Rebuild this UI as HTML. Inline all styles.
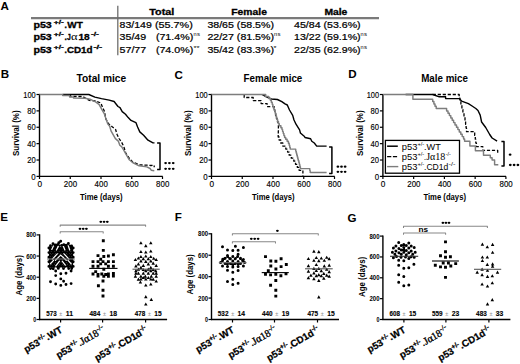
<!DOCTYPE html><html><head><meta charset="utf-8"><style>html,body{margin:0;padding:0;background:#fff;}svg{display:block;}</style></head><body>
<svg width="520" height="364" viewBox="0 0 520 364" font-family='"Liberation Sans", sans-serif'>
<rect width="520" height="364" fill="#fff"/>
<text x="0.60" y="9.60" font-size="11.6" font-weight="bold" text-anchor="start" fill="#000" >A</text>
<text x="0.80" y="78.30" font-size="11.6" font-weight="bold" text-anchor="start" fill="#000" >B</text>
<text x="174.60" y="78.50" font-size="11.6" font-weight="bold" text-anchor="start" fill="#000" >C</text>
<text x="348.30" y="78.10" font-size="11.6" font-weight="bold" text-anchor="start" fill="#000" >D</text>
<text x="0.20" y="221.40" font-size="11.6" font-weight="bold" text-anchor="start" fill="#000" >E</text>
<text x="174.70" y="221.40" font-size="11.6" font-weight="bold" text-anchor="start" fill="#000" >F</text>
<text x="347.60" y="221.80" font-size="11.6" font-weight="bold" text-anchor="start" fill="#000" >G</text>
<line x1="31.00" y1="18.10" x2="379.00" y2="18.10" stroke="#7a7a7a" stroke-width="2.4" />
<line x1="117.80" y1="5.80" x2="117.80" y2="55.20" stroke="#6e6e6e" stroke-width="1.3" />
<text x="149.30" y="14.70" font-size="8.7" font-weight="bold" text-anchor="start" fill="#000" textLength="25.00" lengthAdjust="spacingAndGlyphs" stroke="#000" stroke-width="0.3">Total</text>
<text x="231.30" y="14.70" font-size="8.7" font-weight="bold" text-anchor="start" fill="#000" textLength="35.60" lengthAdjust="spacingAndGlyphs" stroke="#000" stroke-width="0.3">Female</text>
<text x="324.40" y="14.70" font-size="8.7" font-weight="bold" text-anchor="start" fill="#000" textLength="23.00" lengthAdjust="spacingAndGlyphs" stroke="#000" stroke-width="0.3">Male</text>
<text x="33.40" y="28.10" font-size="9.2" font-weight="bold" text-anchor="start" fill="#000" textLength="18.40" lengthAdjust="spacingAndGlyphs" stroke="#000" stroke-width="0.3">p53</text>
<text x="53.80" y="24.10" font-size="5.9" font-weight="bold" text-anchor="start" fill="#000" textLength="9.90" lengthAdjust="spacingAndGlyphs" stroke="#000" stroke-width="0.3">+/-</text>
<text x="64.50" y="28.10" font-size="8.8" font-weight="bold" text-anchor="start" fill="#000" textLength="2.40" lengthAdjust="spacingAndGlyphs" stroke="#000" stroke-width="0.3">.</text>
<text x="33.40" y="39.70" font-size="9.2" font-weight="bold" text-anchor="start" fill="#000" textLength="18.40" lengthAdjust="spacingAndGlyphs" stroke="#000" stroke-width="0.3">p53</text>
<text x="53.80" y="35.70" font-size="5.9" font-weight="bold" text-anchor="start" fill="#000" textLength="9.90" lengthAdjust="spacingAndGlyphs" stroke="#000" stroke-width="0.3">+/-</text>
<text x="64.50" y="39.70" font-size="8.8" font-weight="bold" text-anchor="start" fill="#000" textLength="2.40" lengthAdjust="spacingAndGlyphs" stroke="#000" stroke-width="0.3">.</text>
<text x="33.40" y="53.20" font-size="9.2" font-weight="bold" text-anchor="start" fill="#000" textLength="18.40" lengthAdjust="spacingAndGlyphs" stroke="#000" stroke-width="0.3">p53</text>
<text x="53.80" y="49.20" font-size="5.9" font-weight="bold" text-anchor="start" fill="#000" textLength="9.90" lengthAdjust="spacingAndGlyphs" stroke="#000" stroke-width="0.3">+/-</text>
<text x="64.50" y="53.20" font-size="8.8" font-weight="bold" text-anchor="start" fill="#000" textLength="2.40" lengthAdjust="spacingAndGlyphs" stroke="#000" stroke-width="0.3">.</text>
<text x="67.30" y="28.10" font-size="9.2" font-weight="bold" text-anchor="start" fill="#000" textLength="15.50" lengthAdjust="spacingAndGlyphs" stroke="#000" stroke-width="0.3">WT</text>
<text x="67.00" y="39.70" font-size="9.2" font-weight="bold" text-anchor="start" fill="#000" textLength="3.80" lengthAdjust="spacingAndGlyphs" stroke="#000" stroke-width="0.3">J</text>
<text x="70.9" y="39.70" font-size="9.6" font-family='"Liberation Serif", serif' textLength="6.6" lengthAdjust="spacingAndGlyphs">α</text>
<text x="78.40" y="39.70" font-size="9.2" font-weight="bold" text-anchor="start" fill="#000" textLength="11.30" lengthAdjust="spacingAndGlyphs" stroke="#000" stroke-width="0.3">18</text>
<text x="90.90" y="35.70" font-size="5.9" font-weight="bold" text-anchor="start" fill="#000" textLength="8.00" lengthAdjust="spacingAndGlyphs" stroke="#000" stroke-width="0.3">-/-</text>
<text x="66.90" y="53.20" font-size="9.2" font-weight="bold" text-anchor="start" fill="#000" textLength="25.70" lengthAdjust="spacingAndGlyphs" stroke="#000" stroke-width="0.3">CD1d</text>
<text x="93.40" y="49.20" font-size="5.9" font-weight="bold" text-anchor="start" fill="#000" textLength="8.80" lengthAdjust="spacingAndGlyphs" stroke="#000" stroke-width="0.3">-/-</text>
<text x="119.60" y="28.10" font-size="8.9" font-weight="normal" text-anchor="start" fill="#000" textLength="32.20" lengthAdjust="spacingAndGlyphs" stroke="#000" stroke-width="0.22">83/149</text>
<text x="155.00" y="28.10" font-size="8.9" font-weight="normal" text-anchor="start" fill="#000" textLength="37.80" lengthAdjust="spacingAndGlyphs" stroke="#000" stroke-width="0.22">(55.7%)</text>
<text x="119.60" y="39.70" font-size="8.9" font-weight="normal" text-anchor="start" fill="#000" textLength="26.60" lengthAdjust="spacingAndGlyphs" stroke="#000" stroke-width="0.22">35/49</text>
<text x="155.90" y="39.70" font-size="8.9" font-weight="normal" text-anchor="start" fill="#000" textLength="37.30" lengthAdjust="spacingAndGlyphs" stroke="#000" stroke-width="0.22">(71.4%)</text>
<text x="193.40" y="35.80" font-size="6.2" font-weight="normal" text-anchor="start" fill="#000" textLength="3.10" lengthAdjust="spacingAndGlyphs" >n</text>
<text x="196.90" y="35.80" font-size="6.2" font-weight="normal" text-anchor="start" fill="#000" textLength="3.00" lengthAdjust="spacingAndGlyphs" >s</text>
<text x="119.60" y="53.20" font-size="8.9" font-weight="normal" text-anchor="start" fill="#000" textLength="26.60" lengthAdjust="spacingAndGlyphs" stroke="#000" stroke-width="0.22">57/77</text>
<text x="155.90" y="53.20" font-size="8.9" font-weight="normal" text-anchor="start" fill="#000" textLength="37.30" lengthAdjust="spacingAndGlyphs" stroke="#000" stroke-width="0.22">(74.0%)</text>
<text x="193.40" y="50.00" font-size="6.0" font-weight="normal" text-anchor="start" fill="#000" textLength="6.20" lengthAdjust="spacingAndGlyphs" >**</text>
<text x="207.40" y="28.10" font-size="8.9" font-weight="normal" text-anchor="start" fill="#000" textLength="66.60" lengthAdjust="spacingAndGlyphs" stroke="#000" stroke-width="0.22">38/65 (58.5%)</text>
<text x="207.40" y="39.70" font-size="8.9" font-weight="normal" text-anchor="start" fill="#000" textLength="66.60" lengthAdjust="spacingAndGlyphs" stroke="#000" stroke-width="0.22">22/27 (81.5%)</text>
<text x="274.00" y="35.80" font-size="6.2" font-weight="normal" text-anchor="start" fill="#000" textLength="3.10" lengthAdjust="spacingAndGlyphs" >n</text>
<text x="277.50" y="35.80" font-size="6.2" font-weight="normal" text-anchor="start" fill="#000" textLength="3.00" lengthAdjust="spacingAndGlyphs" >s</text>
<text x="207.40" y="53.20" font-size="8.9" font-weight="normal" text-anchor="start" fill="#000" textLength="66.60" lengthAdjust="spacingAndGlyphs" stroke="#000" stroke-width="0.22">35/42 (83.3%)</text>
<text x="273.60" y="50.00" font-size="6.0" font-weight="normal" text-anchor="start" fill="#000" textLength="3.00" lengthAdjust="spacingAndGlyphs" >*</text>
<text x="294.00" y="28.10" font-size="8.9" font-weight="normal" text-anchor="start" fill="#000" textLength="66.60" lengthAdjust="spacingAndGlyphs" stroke="#000" stroke-width="0.22">45/84 (53.6%)</text>
<text x="294.00" y="39.70" font-size="8.9" font-weight="normal" text-anchor="start" fill="#000" textLength="66.60" lengthAdjust="spacingAndGlyphs" stroke="#000" stroke-width="0.22">13/22 (59.1%)</text>
<text x="360.40" y="35.80" font-size="6.2" font-weight="normal" text-anchor="start" fill="#000" textLength="3.10" lengthAdjust="spacingAndGlyphs" >n</text>
<text x="363.90" y="35.80" font-size="6.2" font-weight="normal" text-anchor="start" fill="#000" textLength="3.00" lengthAdjust="spacingAndGlyphs" >s</text>
<text x="294.00" y="53.20" font-size="8.9" font-weight="normal" text-anchor="start" fill="#000" textLength="66.60" lengthAdjust="spacingAndGlyphs" stroke="#000" stroke-width="0.22">22/35 (62.9%)</text>
<text x="360.40" y="49.30" font-size="6.2" font-weight="normal" text-anchor="start" fill="#000" textLength="3.10" lengthAdjust="spacingAndGlyphs" >n</text>
<text x="363.90" y="49.30" font-size="6.2" font-weight="normal" text-anchor="start" fill="#000" textLength="3.00" lengthAdjust="spacingAndGlyphs" >s</text>
<line x1="39.50" y1="93.90" x2="39.50" y2="177.00" stroke="#000" stroke-width="1.4" />
<line x1="38.90" y1="176.40" x2="162.70" y2="176.40" stroke="#000" stroke-width="1.4" />
<line x1="36.50" y1="176.40" x2="39.50" y2="176.40" stroke="#000" stroke-width="1.2" />
<text x="35.70" y="179.60" font-size="9.2" font-weight="normal" text-anchor="end" fill="#000" textLength="4.40" lengthAdjust="spacingAndGlyphs" stroke="#000" stroke-width="0.15">0</text>
<line x1="36.50" y1="160.02" x2="39.50" y2="160.02" stroke="#000" stroke-width="1.2" />
<text x="35.70" y="163.22" font-size="9.2" font-weight="normal" text-anchor="end" fill="#000" textLength="8.50" lengthAdjust="spacingAndGlyphs" stroke="#000" stroke-width="0.15">20</text>
<line x1="36.50" y1="143.64" x2="39.50" y2="143.64" stroke="#000" stroke-width="1.2" />
<text x="35.70" y="146.84" font-size="9.2" font-weight="normal" text-anchor="end" fill="#000" textLength="8.50" lengthAdjust="spacingAndGlyphs" stroke="#000" stroke-width="0.15">40</text>
<line x1="36.50" y1="127.26" x2="39.50" y2="127.26" stroke="#000" stroke-width="1.2" />
<text x="35.70" y="130.46" font-size="9.2" font-weight="normal" text-anchor="end" fill="#000" textLength="8.50" lengthAdjust="spacingAndGlyphs" stroke="#000" stroke-width="0.15">60</text>
<line x1="36.50" y1="110.88" x2="39.50" y2="110.88" stroke="#000" stroke-width="1.2" />
<text x="35.70" y="114.08" font-size="9.2" font-weight="normal" text-anchor="end" fill="#000" textLength="8.50" lengthAdjust="spacingAndGlyphs" stroke="#000" stroke-width="0.15">80</text>
<line x1="36.50" y1="94.50" x2="39.50" y2="94.50" stroke="#000" stroke-width="1.2" />
<text x="35.70" y="97.70" font-size="9.2" font-weight="normal" text-anchor="end" fill="#000" textLength="12.40" lengthAdjust="spacingAndGlyphs" stroke="#000" stroke-width="0.15">100</text>
<line x1="39.50" y1="176.40" x2="39.50" y2="179.00" stroke="#000" stroke-width="1.2" />
<text x="39.70" y="187.30" font-size="9.0" font-weight="normal" text-anchor="middle" fill="#000" textLength="4.60" lengthAdjust="spacingAndGlyphs" stroke="#000" stroke-width="0.15">0</text>
<line x1="70.25" y1="176.40" x2="70.25" y2="179.00" stroke="#000" stroke-width="1.2" />
<text x="70.45" y="187.30" font-size="9.0" font-weight="normal" text-anchor="middle" fill="#000" textLength="13.20" lengthAdjust="spacingAndGlyphs" stroke="#000" stroke-width="0.15">200</text>
<line x1="101.00" y1="176.40" x2="101.00" y2="179.00" stroke="#000" stroke-width="1.2" />
<text x="101.20" y="187.30" font-size="9.0" font-weight="normal" text-anchor="middle" fill="#000" textLength="13.20" lengthAdjust="spacingAndGlyphs" stroke="#000" stroke-width="0.15">400</text>
<line x1="131.75" y1="176.40" x2="131.75" y2="179.00" stroke="#000" stroke-width="1.2" />
<text x="131.95" y="187.30" font-size="9.0" font-weight="normal" text-anchor="middle" fill="#000" textLength="13.20" lengthAdjust="spacingAndGlyphs" stroke="#000" stroke-width="0.15">600</text>
<line x1="162.50" y1="176.40" x2="162.50" y2="179.00" stroke="#000" stroke-width="1.2" />
<text x="162.70" y="187.30" font-size="9.0" font-weight="normal" text-anchor="middle" fill="#000" textLength="13.20" lengthAdjust="spacingAndGlyphs" stroke="#000" stroke-width="0.15">800</text>
<text x="101.30" y="199.80" font-size="8.3" font-weight="bold" text-anchor="middle" fill="#000" textLength="42.60" lengthAdjust="spacingAndGlyphs" >Time (days)</text>
<text transform="translate(19.30,133.2) rotate(-90)" font-size="9.6" font-weight="bold" text-anchor="middle" textLength="45.6" lengthAdjust="spacingAndGlyphs">Survival (%)</text>
<line x1="211.50" y1="93.90" x2="211.50" y2="177.00" stroke="#000" stroke-width="1.4" />
<line x1="210.90" y1="176.40" x2="334.70" y2="176.40" stroke="#000" stroke-width="1.4" />
<line x1="208.50" y1="176.40" x2="211.50" y2="176.40" stroke="#000" stroke-width="1.2" />
<text x="207.70" y="179.60" font-size="9.2" font-weight="normal" text-anchor="end" fill="#000" textLength="4.40" lengthAdjust="spacingAndGlyphs" stroke="#000" stroke-width="0.15">0</text>
<line x1="208.50" y1="160.02" x2="211.50" y2="160.02" stroke="#000" stroke-width="1.2" />
<text x="207.70" y="163.22" font-size="9.2" font-weight="normal" text-anchor="end" fill="#000" textLength="8.50" lengthAdjust="spacingAndGlyphs" stroke="#000" stroke-width="0.15">20</text>
<line x1="208.50" y1="143.64" x2="211.50" y2="143.64" stroke="#000" stroke-width="1.2" />
<text x="207.70" y="146.84" font-size="9.2" font-weight="normal" text-anchor="end" fill="#000" textLength="8.50" lengthAdjust="spacingAndGlyphs" stroke="#000" stroke-width="0.15">40</text>
<line x1="208.50" y1="127.26" x2="211.50" y2="127.26" stroke="#000" stroke-width="1.2" />
<text x="207.70" y="130.46" font-size="9.2" font-weight="normal" text-anchor="end" fill="#000" textLength="8.50" lengthAdjust="spacingAndGlyphs" stroke="#000" stroke-width="0.15">60</text>
<line x1="208.50" y1="110.88" x2="211.50" y2="110.88" stroke="#000" stroke-width="1.2" />
<text x="207.70" y="114.08" font-size="9.2" font-weight="normal" text-anchor="end" fill="#000" textLength="8.50" lengthAdjust="spacingAndGlyphs" stroke="#000" stroke-width="0.15">80</text>
<line x1="208.50" y1="94.50" x2="211.50" y2="94.50" stroke="#000" stroke-width="1.2" />
<text x="207.70" y="97.70" font-size="9.2" font-weight="normal" text-anchor="end" fill="#000" textLength="12.40" lengthAdjust="spacingAndGlyphs" stroke="#000" stroke-width="0.15">100</text>
<line x1="211.50" y1="176.40" x2="211.50" y2="179.00" stroke="#000" stroke-width="1.2" />
<text x="211.70" y="187.30" font-size="9.0" font-weight="normal" text-anchor="middle" fill="#000" textLength="4.60" lengthAdjust="spacingAndGlyphs" stroke="#000" stroke-width="0.15">0</text>
<line x1="242.25" y1="176.40" x2="242.25" y2="179.00" stroke="#000" stroke-width="1.2" />
<text x="242.45" y="187.30" font-size="9.0" font-weight="normal" text-anchor="middle" fill="#000" textLength="13.20" lengthAdjust="spacingAndGlyphs" stroke="#000" stroke-width="0.15">200</text>
<line x1="273.00" y1="176.40" x2="273.00" y2="179.00" stroke="#000" stroke-width="1.2" />
<text x="273.20" y="187.30" font-size="9.0" font-weight="normal" text-anchor="middle" fill="#000" textLength="13.20" lengthAdjust="spacingAndGlyphs" stroke="#000" stroke-width="0.15">400</text>
<line x1="303.75" y1="176.40" x2="303.75" y2="179.00" stroke="#000" stroke-width="1.2" />
<text x="303.95" y="187.30" font-size="9.0" font-weight="normal" text-anchor="middle" fill="#000" textLength="13.20" lengthAdjust="spacingAndGlyphs" stroke="#000" stroke-width="0.15">600</text>
<line x1="334.50" y1="176.40" x2="334.50" y2="179.00" stroke="#000" stroke-width="1.2" />
<text x="334.70" y="187.30" font-size="9.0" font-weight="normal" text-anchor="middle" fill="#000" textLength="13.20" lengthAdjust="spacingAndGlyphs" stroke="#000" stroke-width="0.15">800</text>
<text x="273.30" y="199.80" font-size="8.3" font-weight="bold" text-anchor="middle" fill="#000" textLength="42.60" lengthAdjust="spacingAndGlyphs" >Time (days)</text>
<text transform="translate(191.30,133.2) rotate(-90)" font-size="9.6" font-weight="bold" text-anchor="middle" textLength="45.6" lengthAdjust="spacingAndGlyphs">Survival (%)</text>
<line x1="382.90" y1="93.90" x2="382.90" y2="177.00" stroke="#000" stroke-width="1.4" />
<line x1="382.30" y1="176.40" x2="506.10" y2="176.40" stroke="#000" stroke-width="1.4" />
<line x1="379.90" y1="176.40" x2="382.90" y2="176.40" stroke="#000" stroke-width="1.2" />
<text x="379.10" y="179.60" font-size="9.2" font-weight="normal" text-anchor="end" fill="#000" textLength="4.40" lengthAdjust="spacingAndGlyphs" stroke="#000" stroke-width="0.15">0</text>
<line x1="379.90" y1="160.02" x2="382.90" y2="160.02" stroke="#000" stroke-width="1.2" />
<text x="379.10" y="163.22" font-size="9.2" font-weight="normal" text-anchor="end" fill="#000" textLength="8.50" lengthAdjust="spacingAndGlyphs" stroke="#000" stroke-width="0.15">20</text>
<line x1="379.90" y1="143.64" x2="382.90" y2="143.64" stroke="#000" stroke-width="1.2" />
<text x="379.10" y="146.84" font-size="9.2" font-weight="normal" text-anchor="end" fill="#000" textLength="8.50" lengthAdjust="spacingAndGlyphs" stroke="#000" stroke-width="0.15">40</text>
<line x1="379.90" y1="127.26" x2="382.90" y2="127.26" stroke="#000" stroke-width="1.2" />
<text x="379.10" y="130.46" font-size="9.2" font-weight="normal" text-anchor="end" fill="#000" textLength="8.50" lengthAdjust="spacingAndGlyphs" stroke="#000" stroke-width="0.15">60</text>
<line x1="379.90" y1="110.88" x2="382.90" y2="110.88" stroke="#000" stroke-width="1.2" />
<text x="379.10" y="114.08" font-size="9.2" font-weight="normal" text-anchor="end" fill="#000" textLength="8.50" lengthAdjust="spacingAndGlyphs" stroke="#000" stroke-width="0.15">80</text>
<line x1="379.90" y1="94.50" x2="382.90" y2="94.50" stroke="#000" stroke-width="1.2" />
<text x="379.10" y="97.70" font-size="9.2" font-weight="normal" text-anchor="end" fill="#000" textLength="12.40" lengthAdjust="spacingAndGlyphs" stroke="#000" stroke-width="0.15">100</text>
<line x1="382.90" y1="176.40" x2="382.90" y2="179.00" stroke="#000" stroke-width="1.2" />
<text x="383.10" y="187.30" font-size="9.0" font-weight="normal" text-anchor="middle" fill="#000" textLength="4.60" lengthAdjust="spacingAndGlyphs" stroke="#000" stroke-width="0.15">0</text>
<line x1="413.65" y1="176.40" x2="413.65" y2="179.00" stroke="#000" stroke-width="1.2" />
<text x="413.85" y="187.30" font-size="9.0" font-weight="normal" text-anchor="middle" fill="#000" textLength="13.20" lengthAdjust="spacingAndGlyphs" stroke="#000" stroke-width="0.15">200</text>
<line x1="444.40" y1="176.40" x2="444.40" y2="179.00" stroke="#000" stroke-width="1.2" />
<text x="444.60" y="187.30" font-size="9.0" font-weight="normal" text-anchor="middle" fill="#000" textLength="13.20" lengthAdjust="spacingAndGlyphs" stroke="#000" stroke-width="0.15">400</text>
<line x1="475.15" y1="176.40" x2="475.15" y2="179.00" stroke="#000" stroke-width="1.2" />
<text x="475.35" y="187.30" font-size="9.0" font-weight="normal" text-anchor="middle" fill="#000" textLength="13.20" lengthAdjust="spacingAndGlyphs" stroke="#000" stroke-width="0.15">600</text>
<line x1="505.90" y1="176.40" x2="505.90" y2="179.00" stroke="#000" stroke-width="1.2" />
<text x="506.10" y="187.30" font-size="9.0" font-weight="normal" text-anchor="middle" fill="#000" textLength="13.20" lengthAdjust="spacingAndGlyphs" stroke="#000" stroke-width="0.15">800</text>
<text x="444.70" y="199.80" font-size="8.3" font-weight="bold" text-anchor="middle" fill="#000" textLength="42.60" lengthAdjust="spacingAndGlyphs" >Time (days)</text>
<text transform="translate(362.70,133.2) rotate(-90)" font-size="9.6" font-weight="bold" text-anchor="middle" textLength="45.6" lengthAdjust="spacingAndGlyphs">Survival (%)</text>
<text x="76.60" y="82.40" font-size="10" font-weight="bold" text-anchor="start" fill="#000" textLength="49.60" lengthAdjust="spacingAndGlyphs" >Total mice</text>
<text x="243.50" y="81.90" font-size="10" font-weight="bold" text-anchor="start" fill="#000" textLength="58.80" lengthAdjust="spacingAndGlyphs" >Female mice</text>
<text x="421.20" y="81.90" font-size="10" font-weight="bold" text-anchor="start" fill="#000" textLength="46.80" lengthAdjust="spacingAndGlyphs" >Male mice</text>
<polyline points="62.7,94.5 88.8,94.5 94.9,97.1 101.5,98.6 109.2,100.1 114.1,101.5 118.0,106.5 120.0,107.7 122.2,111.6 125.5,114.3 128.2,117.6 131.0,120.4 135.9,122.6 137.6,127.0 139.8,131.9 143.6,135.2 148.0,140.2 153.0,142.9 154.5,142.9" fill="none" stroke="#000" stroke-width="1.4" stroke-linejoin="round" />
<polyline points="70.4,94.5 70.4,96.5 82.7,96.5 89.4,100.4 95.4,101.0 100.9,103.0 102.6,107.6 104.8,112.0 105.3,117.9 108.7,124.0 110.1,124.7 112.2,126.8 115.6,129.5 117.0,134.3 119.0,138.5 121.8,142.6 123.8,146.7 125.8,153.0 129.5,158.5 132.6,162.0 139.1,164.8 146.8,165.2 151.0,165.5 154.2,165.3 154.2,167.2" fill="none" stroke="#000" stroke-width="1.3" stroke-linejoin="round" stroke-dasharray="3.2,1.8"/>
<polyline points="39.5,94.5 62.7,94.5 62.7,95.4 69.6,95.4 69.6,96.9 73.5,96.9 73.5,98.1 85.0,98.2 90.0,99.2 96.0,102.1 99.3,104.8 102.6,110.9 104.4,114.0 105.9,118.6 107.7,123.7 109.7,126.3 111.0,130.9 115.4,138.6 118.3,141.1 119.8,145.2 121.6,146.6 123.6,150.0 125.4,153.2 129.3,159.8 132.6,162.5 139.1,165.8 146.8,166.9 150.1,168.5 151.2,170.2 154.3,170.7" fill="none" stroke="#7d7d7d" stroke-width="1.45" stroke-linejoin="round" />
<polyline points="157.1,142.9 160.0,142.9 160.0,169.4 157.1,169.4" fill="none" stroke="#000" stroke-width="1.5" stroke-linejoin="round" stroke-linejoin="miter"/>
<ellipse cx="165.60" cy="163.10" rx="1.4" ry="1.15"/>
<ellipse cx="169.40" cy="163.10" rx="1.4" ry="1.15"/>
<ellipse cx="173.20" cy="163.10" rx="1.4" ry="1.15"/>
<ellipse cx="165.60" cy="168.80" rx="1.4" ry="1.15"/>
<ellipse cx="169.40" cy="168.80" rx="1.4" ry="1.15"/>
<ellipse cx="173.20" cy="168.80" rx="1.4" ry="1.15"/>
<polyline points="262.0,94.5 266.4,96.8 271.3,99.0 277.4,99.5 281.8,101.7 285.0,103.9 287.3,105.0 289.5,110.0 292.7,115.4 294.0,120.0 296.0,124.2 299.6,129.9 300.4,133.0 304.5,136.5 305.0,137.5 310.6,138.7 311.8,141.2 314.3,143.0 316.7,146.1 326.6,146.1" fill="none" stroke="#000" stroke-width="1.4" stroke-linejoin="round" />
<polyline points="244.2,94.5 244.2,94.5 244.2,97.5 253.2,97.5 253.2,100.6 261.1,100.6 261.1,103.6 267.1,103.6 267.1,106.6 274.2,106.6 274.2,109.7 274.8,109.7 274.8,112.7 275.6,112.7 275.6,115.7 276.5,115.7 276.5,118.8 277.4,118.8 277.4,121.8 278.3,121.8 278.3,124.8 278.4,124.8 278.4,127.9 278.4,127.9 278.4,130.9 278.3,130.9 278.3,133.9 278.2,133.9 278.2,137.0 279.1,137.0 279.1,140.0 280.7,140.0 280.7,143.0 282.8,143.0 282.8,146.1 285.8,146.1 285.8,149.1 287.6,149.1 287.6,152.1 289.2,152.1 289.2,155.2 291.3,155.2 291.3,158.2 293.8,158.2 293.8,161.2 295.5,161.2 295.5,164.3 297.3,164.3 297.3,167.3 299.1,167.3 299.1,170.3 302.9,170.3 302.9,173.4 302.9,173.4 302.9,176.4 302.9,176.4" fill="none" stroke="#000" stroke-width="1.3" stroke-linejoin="round" stroke-dasharray="3.2,1.8"/>
<polyline points="211.5,94.5 265.7,94.5 265.7,96.5 268.8,96.5 268.8,98.4 270.4,98.4 270.4,100.3 271.3,100.3 271.3,102.3 272.2,102.3 272.2,104.2 272.8,104.2 272.8,106.2 273.5,106.2 273.5,108.2 274.1,108.2 274.1,110.1 274.8,110.1 274.8,112.0 275.4,112.0 275.4,114.0 276.0,114.0 276.0,116.0 276.5,116.0 276.5,117.9 277.1,117.9 277.1,119.8 277.7,119.8 277.7,121.8 278.5,121.8 278.5,123.8 279.3,123.8 279.3,125.7 280.9,125.7 280.9,127.7 282.0,127.7 282.0,129.6 282.6,129.6 282.6,131.6 283.3,131.6 283.3,133.5 283.9,133.5 283.9,135.4 284.6,135.4 284.6,137.4 285.7,137.4 285.7,139.3 287.1,139.3 287.1,141.3 288.4,141.3 288.4,143.2 289.2,143.2 289.2,145.2 289.7,145.2 289.7,147.2 290.2,147.2 290.2,149.1 295.7,149.1 295.7,151.1 296.2,151.1 296.2,153.0 296.7,153.0 296.7,154.9 297.3,154.9 297.3,156.9 297.8,156.9 297.8,158.9 298.3,158.9 298.3,160.8 298.9,160.8 298.9,162.8 299.4,162.8 299.4,164.7 299.9,164.7 299.9,166.7 300.4,166.7 300.4,168.6 309.8,168.6 309.8,170.6 310.2,170.6 310.2,172.5 326.6,172.5" fill="none" stroke="#7d7d7d" stroke-width="1.45" stroke-linejoin="round" />
<polyline points="329.1,147.0 331.9,147.0 331.9,173.4 329.1,173.4" fill="none" stroke="#000" stroke-width="1.5" stroke-linejoin="round" stroke-linejoin="miter"/>
<ellipse cx="337.90" cy="166.70" rx="1.4" ry="1.15"/>
<ellipse cx="341.50" cy="166.70" rx="1.4" ry="1.15"/>
<ellipse cx="345.10" cy="166.70" rx="1.4" ry="1.15"/>
<ellipse cx="337.90" cy="171.80" rx="1.4" ry="1.15"/>
<ellipse cx="341.50" cy="171.80" rx="1.4" ry="1.15"/>
<ellipse cx="345.10" cy="171.80" rx="1.4" ry="1.15"/>
<polyline points="405.6,94.5 432.7,94.5 439.3,96.8 445.6,96.8 445.6,98.6 459.1,98.6 461.6,101.1 468.4,103.6 472.1,106.0 475.8,108.5 478.0,110.5 480.2,115.1 481.6,122.0 485.7,127.5 489.7,134.5 492.1,138.0 497.1,141.1" fill="none" stroke="#000" stroke-width="1.4" stroke-linejoin="round" />
<polyline points="432.7,94.5 459.2,94.5 459.2,98.2 460.0,98.2 460.0,101.9 460.9,101.9 460.9,105.7 461.9,105.7 461.9,109.4 462.9,109.4 462.9,113.1 464.0,113.1 464.0,116.8 465.0,116.8 465.0,120.6 465.6,120.6 465.6,124.3 466.1,124.3 466.1,128.0 466.5,128.0 466.5,131.7 474.7,131.7 474.7,135.4 475.3,135.4 475.3,139.2 475.8,139.2 475.8,142.9 476.4,142.9 476.4,146.6 482.8,146.6 482.8,150.3 497.7,150.3 497.7,154.1 497.7,154.1" fill="none" stroke="#000" stroke-width="1.3" stroke-linejoin="round" stroke-dasharray="3.2,1.8"/>
<polyline points="382.9,94.5 412.9,94.5 412.9,96.8 412.9,96.8 412.9,99.2 432.7,99.2 432.7,101.5 433.9,101.5 433.9,103.9 435.0,103.9 435.0,106.2 436.2,106.2 436.2,108.5 446.6,108.5 446.6,110.9 448.0,110.9 448.0,113.2 449.4,113.2 449.4,115.6 450.8,115.6 450.8,117.9 452.2,117.9 452.2,120.2 453.6,120.2 453.6,122.6 455.0,122.6 455.0,124.9 456.5,124.9 456.5,127.3 457.9,127.3 457.9,129.6 459.3,129.6 459.3,131.9 460.8,131.9 460.8,134.3 462.2,134.3 462.2,136.6 463.6,136.6 463.6,139.0 464.6,139.0 464.6,141.3 469.9,141.3 469.9,143.6 469.9,143.6 469.9,146.0 475.4,146.0 475.4,148.3 475.4,148.3 475.4,150.7 483.5,150.7 483.5,153.0 483.5,153.0 483.5,155.3 490.3,155.3 490.3,157.7 492.1,157.7 492.1,160.0 494.6,160.0 494.6,162.4 494.6,162.4 494.6,164.7 498.3,164.7" fill="none" stroke="#7d7d7d" stroke-width="1.45" stroke-linejoin="round" />
<polyline points="501.4,141.4 504.0,141.4 504.0,165.9 501.4,165.9" fill="none" stroke="#000" stroke-width="1.5" stroke-linejoin="round" stroke-linejoin="miter"/>
<ellipse cx="510.10" cy="154.70" rx="1.4" ry="1.15"/>
<ellipse cx="510.30" cy="165.00" rx="1.4" ry="1.15"/>
<ellipse cx="514.10" cy="165.00" rx="1.4" ry="1.15"/>
<ellipse cx="517.90" cy="165.00" rx="1.4" ry="1.15"/>
<rect x="385.4" y="140.4" width="74.1" height="32.8" fill="#fff" stroke="#000" stroke-width="1.3"/>
<line x1="387.10" y1="146.20" x2="397.80" y2="146.20" stroke="#000" stroke-width="1.5" />
<line x1="387.10" y1="156.60" x2="397.80" y2="156.60" stroke="#000" stroke-width="1.4" stroke-dasharray="4.2,1.6"/>
<line x1="387.10" y1="166.60" x2="398.30" y2="166.60" stroke="#7d7d7d" stroke-width="1.4" />
<text x="401.80" y="149.90" font-size="8.8" font-weight="normal" text-anchor="start" fill="#000" textLength="15.60" lengthAdjust="spacingAndGlyphs" >p53</text>
<text x="417.40" y="146.30" font-size="5.6" font-weight="normal" text-anchor="start" fill="#000" textLength="6.80" lengthAdjust="spacingAndGlyphs" >+/-</text>
<text x="424.00" y="149.90" font-size="8.8" font-weight="normal" text-anchor="start" fill="#000" textLength="16.80" lengthAdjust="spacingAndGlyphs" >.WT</text>
<text x="401.80" y="159.80" font-size="8.8" font-weight="normal" text-anchor="start" fill="#000" textLength="15.60" lengthAdjust="spacingAndGlyphs" >p53</text>
<text x="417.40" y="156.20" font-size="5.6" font-weight="normal" text-anchor="start" fill="#000" textLength="6.80" lengthAdjust="spacingAndGlyphs" >+/-</text>
<text x="424.00" y="159.80" font-size="8.8" font-weight="normal" text-anchor="start" fill="#000" textLength="2.00" lengthAdjust="spacingAndGlyphs" >.</text>
<text x="426.2" y="159.80" font-size="9.6" font-family='"Liberation Serif", serif' textLength="19.2" lengthAdjust="spacingAndGlyphs">Jα18</text>
<text x="445.80" y="156.20" font-size="5.6" font-weight="normal" text-anchor="start" fill="#000" textLength="5.00" lengthAdjust="spacingAndGlyphs" >-/-</text>
<text x="401.80" y="169.70" font-size="8.8" font-weight="normal" text-anchor="start" fill="#000" textLength="15.60" lengthAdjust="spacingAndGlyphs" >p53</text>
<text x="417.40" y="166.10" font-size="5.6" font-weight="normal" text-anchor="start" fill="#000" textLength="6.80" lengthAdjust="spacingAndGlyphs" >+/-</text>
<text x="424.00" y="169.70" font-size="8.8" font-weight="normal" text-anchor="start" fill="#000" textLength="24.30" lengthAdjust="spacingAndGlyphs" >.CD1d</text>
<text x="448.50" y="166.10" font-size="5.6" font-weight="normal" text-anchor="start" fill="#000" textLength="6.80" lengthAdjust="spacingAndGlyphs" >-/-</text>
<line x1="39.60" y1="234.30" x2="39.60" y2="320.10" stroke="#000" stroke-width="1.4" />
<line x1="39.00" y1="319.50" x2="167.10" y2="319.50" stroke="#000" stroke-width="1.4" />
<line x1="36.60" y1="319.50" x2="39.60" y2="319.50" stroke="#000" stroke-width="1.2" />
<text x="36.20" y="322.00" font-size="6.8" font-weight="bold" text-anchor="end" fill="#000" textLength="3.00" lengthAdjust="spacingAndGlyphs" >0</text>
<line x1="36.60" y1="298.35" x2="39.60" y2="298.35" stroke="#000" stroke-width="1.2" />
<text x="36.20" y="300.85" font-size="6.8" font-weight="bold" text-anchor="end" fill="#000" textLength="10.00" lengthAdjust="spacingAndGlyphs" >200</text>
<line x1="36.60" y1="277.20" x2="39.60" y2="277.20" stroke="#000" stroke-width="1.2" />
<text x="36.20" y="279.70" font-size="6.8" font-weight="bold" text-anchor="end" fill="#000" textLength="10.00" lengthAdjust="spacingAndGlyphs" >400</text>
<line x1="36.60" y1="256.05" x2="39.60" y2="256.05" stroke="#000" stroke-width="1.2" />
<text x="36.20" y="258.55" font-size="6.8" font-weight="bold" text-anchor="end" fill="#000" textLength="10.00" lengthAdjust="spacingAndGlyphs" >600</text>
<line x1="36.60" y1="234.90" x2="39.60" y2="234.90" stroke="#000" stroke-width="1.2" />
<text x="36.20" y="237.40" font-size="6.8" font-weight="bold" text-anchor="end" fill="#000" textLength="10.00" lengthAdjust="spacingAndGlyphs" >800</text>
<line x1="60.60" y1="319.50" x2="60.60" y2="322.50" stroke="#000" stroke-width="1.2" />
<line x1="102.60" y1="319.50" x2="102.60" y2="322.50" stroke="#000" stroke-width="1.2" />
<line x1="145.60" y1="319.50" x2="145.60" y2="322.50" stroke="#000" stroke-width="1.2" />
<text transform="translate(21.50,275.30) rotate(-90)" font-size="8.9" font-weight="bold" text-anchor="middle" textLength="40.2" lengthAdjust="spacingAndGlyphs">Age (days)</text>
<g transform="translate(63.10,331.70) rotate(-30)"><text x="0" y="0" font-size="9.7" font-weight="bold" text-anchor="end" stroke="#000" stroke-width="0.25"><tspan>p53</tspan><tspan font-size="6.8" dy="-4.0">+/-</tspan><tspan dy="4.0">.WT</tspan></text></g>
<g transform="translate(105.60,331.60) rotate(-30)"><text x="0" y="0" font-size="9.7" text-anchor="end"><tspan font-weight="bold" stroke="#000" stroke-width="0.25">p53</tspan><tspan font-size="6.8" dy="-4.0" font-weight="bold" stroke="#000" stroke-width="0.25">+/-</tspan><tspan dy="4.0" font-weight="bold">.</tspan><tspan font-family='"Liberation Serif", serif' font-size="10.4" stroke="#000" stroke-width="0.35">Jα18</tspan><tspan font-size="7.4" dy="-4.0" font-family='"Liberation Serif", serif' stroke="#000" stroke-width="0.3">-/-</tspan></text></g>
<g transform="translate(148.30,331.80) rotate(-30)"><text x="0" y="0" font-size="9.7" font-weight="bold" text-anchor="end" stroke="#000" stroke-width="0.25"><tspan>p53</tspan><tspan font-size="6.8" dy="-4.0">+/-</tspan><tspan dy="4.0">.CD1d</tspan><tspan font-size="6.8" dy="-4.0">-/-</tspan></text></g>
<line x1="211.50" y1="233.20" x2="211.50" y2="320.10" stroke="#000" stroke-width="1.4" />
<line x1="210.90" y1="319.50" x2="339.00" y2="319.50" stroke="#000" stroke-width="1.4" />
<line x1="208.50" y1="319.50" x2="211.50" y2="319.50" stroke="#000" stroke-width="1.2" />
<text x="208.10" y="322.00" font-size="6.8" font-weight="bold" text-anchor="end" fill="#000" textLength="3.00" lengthAdjust="spacingAndGlyphs" >0</text>
<line x1="208.50" y1="298.07" x2="211.50" y2="298.07" stroke="#000" stroke-width="1.2" />
<text x="208.10" y="300.57" font-size="6.8" font-weight="bold" text-anchor="end" fill="#000" textLength="10.00" lengthAdjust="spacingAndGlyphs" >200</text>
<line x1="208.50" y1="276.65" x2="211.50" y2="276.65" stroke="#000" stroke-width="1.2" />
<text x="208.10" y="279.15" font-size="6.8" font-weight="bold" text-anchor="end" fill="#000" textLength="10.00" lengthAdjust="spacingAndGlyphs" >400</text>
<line x1="208.50" y1="255.23" x2="211.50" y2="255.23" stroke="#000" stroke-width="1.2" />
<text x="208.10" y="257.73" font-size="6.8" font-weight="bold" text-anchor="end" fill="#000" textLength="10.00" lengthAdjust="spacingAndGlyphs" >600</text>
<line x1="208.50" y1="233.80" x2="211.50" y2="233.80" stroke="#000" stroke-width="1.2" />
<text x="208.10" y="236.30" font-size="6.8" font-weight="bold" text-anchor="end" fill="#000" textLength="10.00" lengthAdjust="spacingAndGlyphs" >800</text>
<line x1="232.50" y1="319.50" x2="232.50" y2="322.50" stroke="#000" stroke-width="1.2" />
<line x1="274.50" y1="319.50" x2="274.50" y2="322.50" stroke="#000" stroke-width="1.2" />
<line x1="317.50" y1="319.50" x2="317.50" y2="322.50" stroke="#000" stroke-width="1.2" />
<text transform="translate(193.40,274.40) rotate(-90)" font-size="8.9" font-weight="bold" text-anchor="middle" textLength="40.2" lengthAdjust="spacingAndGlyphs">Age (days)</text>
<g transform="translate(235.00,331.70) rotate(-30)"><text x="0" y="0" font-size="9.7" font-weight="bold" text-anchor="end" stroke="#000" stroke-width="0.25"><tspan>p53</tspan><tspan font-size="6.8" dy="-4.0">+/-</tspan><tspan dy="4.0">.WT</tspan></text></g>
<g transform="translate(277.50,331.60) rotate(-30)"><text x="0" y="0" font-size="9.7" text-anchor="end"><tspan font-weight="bold" stroke="#000" stroke-width="0.25">p53</tspan><tspan font-size="6.8" dy="-4.0" font-weight="bold" stroke="#000" stroke-width="0.25">+/-</tspan><tspan dy="4.0" font-weight="bold">.</tspan><tspan font-family='"Liberation Serif", serif' font-size="10.4" stroke="#000" stroke-width="0.35">Jα18</tspan><tspan font-size="7.4" dy="-4.0" font-family='"Liberation Serif", serif' stroke="#000" stroke-width="0.3">-/-</tspan></text></g>
<g transform="translate(320.20,331.80) rotate(-30)"><text x="0" y="0" font-size="9.7" font-weight="bold" text-anchor="end" stroke="#000" stroke-width="0.25"><tspan>p53</tspan><tspan font-size="6.8" dy="-4.0">+/-</tspan><tspan dy="4.0">.CD1d</tspan><tspan font-size="6.8" dy="-4.0">-/-</tspan></text></g>
<line x1="382.90" y1="235.50" x2="382.90" y2="320.10" stroke="#000" stroke-width="1.4" />
<line x1="382.30" y1="319.50" x2="510.40" y2="319.50" stroke="#000" stroke-width="1.4" />
<line x1="379.90" y1="319.50" x2="382.90" y2="319.50" stroke="#000" stroke-width="1.2" />
<text x="379.50" y="322.00" font-size="6.8" font-weight="bold" text-anchor="end" fill="#000" textLength="3.00" lengthAdjust="spacingAndGlyphs" >0</text>
<line x1="379.90" y1="298.65" x2="382.90" y2="298.65" stroke="#000" stroke-width="1.2" />
<text x="379.50" y="301.15" font-size="6.8" font-weight="bold" text-anchor="end" fill="#000" textLength="10.00" lengthAdjust="spacingAndGlyphs" >200</text>
<line x1="379.90" y1="277.80" x2="382.90" y2="277.80" stroke="#000" stroke-width="1.2" />
<text x="379.50" y="280.30" font-size="6.8" font-weight="bold" text-anchor="end" fill="#000" textLength="10.00" lengthAdjust="spacingAndGlyphs" >400</text>
<line x1="379.90" y1="256.95" x2="382.90" y2="256.95" stroke="#000" stroke-width="1.2" />
<text x="379.50" y="259.45" font-size="6.8" font-weight="bold" text-anchor="end" fill="#000" textLength="10.00" lengthAdjust="spacingAndGlyphs" >600</text>
<line x1="379.90" y1="236.10" x2="382.90" y2="236.10" stroke="#000" stroke-width="1.2" />
<text x="379.50" y="238.60" font-size="6.8" font-weight="bold" text-anchor="end" fill="#000" textLength="10.00" lengthAdjust="spacingAndGlyphs" >800</text>
<line x1="403.90" y1="319.50" x2="403.90" y2="322.50" stroke="#000" stroke-width="1.2" />
<line x1="445.90" y1="319.50" x2="445.90" y2="322.50" stroke="#000" stroke-width="1.2" />
<line x1="488.90" y1="319.50" x2="488.90" y2="322.50" stroke="#000" stroke-width="1.2" />
<text transform="translate(364.80,276.90) rotate(-90)" font-size="8.9" font-weight="bold" text-anchor="middle" textLength="40.2" lengthAdjust="spacingAndGlyphs">Age (days)</text>
<g transform="translate(406.40,331.70) rotate(-30)"><text x="0" y="0" font-size="9.7" font-weight="bold" text-anchor="end" stroke="#000" stroke-width="0.25"><tspan>p53</tspan><tspan font-size="6.8" dy="-4.0">+/-</tspan><tspan dy="4.0">.WT</tspan></text></g>
<g transform="translate(448.90,331.60) rotate(-30)"><text x="0" y="0" font-size="9.7" text-anchor="end"><tspan font-weight="bold" stroke="#000" stroke-width="0.25">p53</tspan><tspan font-size="6.8" dy="-4.0" font-weight="bold" stroke="#000" stroke-width="0.25">+/-</tspan><tspan dy="4.0" font-weight="bold">.</tspan><tspan font-family='"Liberation Serif", serif' font-size="10.4" stroke="#000" stroke-width="0.35">Jα18</tspan><tspan font-size="7.4" dy="-4.0" font-family='"Liberation Serif", serif' stroke="#000" stroke-width="0.3">-/-</tspan></text></g>
<g transform="translate(491.60,331.80) rotate(-30)"><text x="0" y="0" font-size="9.7" font-weight="bold" text-anchor="end" stroke="#000" stroke-width="0.25"><tspan>p53</tspan><tspan font-size="6.8" dy="-4.0">+/-</tspan><tspan dy="4.0">.CD1d</tspan><tspan font-size="6.8" dy="-4.0">-/-</tspan></text></g>
<text x="46.30" y="316.10" font-size="6.6" font-weight="bold" text-anchor="start" fill="#000" textLength="10.41" lengthAdjust="spacingAndGlyphs" stroke="#000" stroke-width="0.12">573</text>
<text x="59.38" y="315.90" font-size="5.0" font-weight="bold" text-anchor="start" fill="#999" textLength="2.94" lengthAdjust="spacingAndGlyphs" >±</text>
<text x="65.66" y="316.10" font-size="6.6" font-weight="bold" text-anchor="start" fill="#000" textLength="7.34" lengthAdjust="spacingAndGlyphs" stroke="#000" stroke-width="0.12">11</text>
<text x="89.50" y="316.10" font-size="6.6" font-weight="bold" text-anchor="start" fill="#000" textLength="10.72" lengthAdjust="spacingAndGlyphs" stroke="#000" stroke-width="0.12">484</text>
<text x="102.97" y="315.90" font-size="5.0" font-weight="bold" text-anchor="start" fill="#999" textLength="3.02" lengthAdjust="spacingAndGlyphs" >±</text>
<text x="109.44" y="316.10" font-size="6.6" font-weight="bold" text-anchor="start" fill="#000" textLength="7.56" lengthAdjust="spacingAndGlyphs" stroke="#000" stroke-width="0.12">18</text>
<text x="134.80" y="316.10" font-size="6.6" font-weight="bold" text-anchor="start" fill="#000" textLength="10.49" lengthAdjust="spacingAndGlyphs" stroke="#000" stroke-width="0.12">478</text>
<text x="147.98" y="315.90" font-size="5.0" font-weight="bold" text-anchor="start" fill="#999" textLength="2.96" lengthAdjust="spacingAndGlyphs" >±</text>
<text x="154.30" y="316.10" font-size="6.6" font-weight="bold" text-anchor="start" fill="#000" textLength="7.40" lengthAdjust="spacingAndGlyphs" stroke="#000" stroke-width="0.12">15</text>
<text x="217.80" y="316.10" font-size="6.6" font-weight="bold" text-anchor="start" fill="#000" textLength="10.65" lengthAdjust="spacingAndGlyphs" stroke="#000" stroke-width="0.12">532</text>
<text x="231.18" y="315.90" font-size="5.0" font-weight="bold" text-anchor="start" fill="#999" textLength="3.00" lengthAdjust="spacingAndGlyphs" >±</text>
<text x="237.59" y="316.10" font-size="6.6" font-weight="bold" text-anchor="start" fill="#000" textLength="7.51" lengthAdjust="spacingAndGlyphs" stroke="#000" stroke-width="0.12">14</text>
<text x="261.90" y="316.10" font-size="6.6" font-weight="bold" text-anchor="start" fill="#000" textLength="10.65" lengthAdjust="spacingAndGlyphs" stroke="#000" stroke-width="0.12">440</text>
<text x="275.28" y="315.90" font-size="5.0" font-weight="bold" text-anchor="start" fill="#999" textLength="3.00" lengthAdjust="spacingAndGlyphs" >±</text>
<text x="281.69" y="316.10" font-size="6.6" font-weight="bold" text-anchor="start" fill="#000" textLength="7.51" lengthAdjust="spacingAndGlyphs" stroke="#000" stroke-width="0.12">19</text>
<text x="307.40" y="316.10" font-size="6.6" font-weight="bold" text-anchor="start" fill="#000" textLength="10.65" lengthAdjust="spacingAndGlyphs" stroke="#000" stroke-width="0.12">475</text>
<text x="320.78" y="315.90" font-size="5.0" font-weight="bold" text-anchor="start" fill="#999" textLength="3.00" lengthAdjust="spacingAndGlyphs" >±</text>
<text x="327.19" y="316.10" font-size="6.6" font-weight="bold" text-anchor="start" fill="#000" textLength="7.51" lengthAdjust="spacingAndGlyphs" stroke="#000" stroke-width="0.12">15</text>
<text x="389.40" y="316.10" font-size="6.6" font-weight="bold" text-anchor="start" fill="#000" textLength="10.49" lengthAdjust="spacingAndGlyphs" stroke="#000" stroke-width="0.12">608</text>
<text x="402.58" y="315.90" font-size="5.0" font-weight="bold" text-anchor="start" fill="#999" textLength="2.96" lengthAdjust="spacingAndGlyphs" >±</text>
<text x="408.90" y="316.10" font-size="6.6" font-weight="bold" text-anchor="start" fill="#000" textLength="7.40" lengthAdjust="spacingAndGlyphs" stroke="#000" stroke-width="0.12">15</text>
<text x="432.00" y="316.10" font-size="6.6" font-weight="bold" text-anchor="start" fill="#000" textLength="10.61" lengthAdjust="spacingAndGlyphs" stroke="#000" stroke-width="0.12">559</text>
<text x="445.33" y="315.90" font-size="5.0" font-weight="bold" text-anchor="start" fill="#999" textLength="2.99" lengthAdjust="spacingAndGlyphs" >±</text>
<text x="451.72" y="316.10" font-size="6.6" font-weight="bold" text-anchor="start" fill="#000" textLength="7.48" lengthAdjust="spacingAndGlyphs" stroke="#000" stroke-width="0.12">23</text>
<text x="476.10" y="316.10" font-size="6.6" font-weight="bold" text-anchor="start" fill="#000" textLength="10.65" lengthAdjust="spacingAndGlyphs" stroke="#000" stroke-width="0.12">483</text>
<text x="489.48" y="315.90" font-size="5.0" font-weight="bold" text-anchor="start" fill="#999" textLength="3.00" lengthAdjust="spacingAndGlyphs" >±</text>
<text x="495.89" y="316.10" font-size="6.6" font-weight="bold" text-anchor="start" fill="#000" textLength="7.51" lengthAdjust="spacingAndGlyphs" stroke="#000" stroke-width="0.12">33</text>
<polyline points="60.2,226.8 60.2,225.1 145.6,225.1 145.6,226.8" fill="none" stroke="#888" stroke-width="1.05" stroke-linejoin="round" stroke-linejoin="miter"/>
<polyline points="60.2,233.5 60.2,231.8 103.2,231.8 103.2,233.5" fill="none" stroke="#888" stroke-width="1.05" stroke-linejoin="round" stroke-linejoin="miter"/>
<ellipse cx="100.80" cy="221.80" rx="1.4" ry="1.15"/>
<ellipse cx="104.05" cy="221.80" rx="1.4" ry="1.15"/>
<ellipse cx="107.30" cy="221.80" rx="1.4" ry="1.15"/>
<ellipse cx="80.00" cy="228.80" rx="1.4" ry="1.15"/>
<ellipse cx="83.20" cy="228.80" rx="1.4" ry="1.15"/>
<ellipse cx="86.40" cy="228.80" rx="1.4" ry="1.15"/>
<polyline points="232.4,235.4 232.4,233.7 318.3,233.7 318.3,235.4" fill="none" stroke="#888" stroke-width="1.05" stroke-linejoin="round" stroke-linejoin="miter"/>
<polyline points="232.4,243.4 232.4,241.7 275.5,241.7 275.5,243.4" fill="none" stroke="#888" stroke-width="1.05" stroke-linejoin="round" stroke-linejoin="miter"/>
<ellipse cx="277.40" cy="230.80" rx="1.4" ry="1.15"/>
<ellipse cx="251.30" cy="238.80" rx="1.4" ry="1.15"/>
<ellipse cx="254.70" cy="238.80" rx="1.4" ry="1.15"/>
<ellipse cx="258.10" cy="238.80" rx="1.4" ry="1.15"/>
<polyline points="403.5,228.0 403.5,226.3 487.4,226.3 487.4,228.0" fill="none" stroke="#888" stroke-width="1.05" stroke-linejoin="round" stroke-linejoin="miter"/>
<polyline points="403.5,234.7 403.5,233.0 445.6,233.0 445.6,234.7" fill="none" stroke="#888" stroke-width="1.05" stroke-linejoin="round" stroke-linejoin="miter"/>
<ellipse cx="442.90" cy="222.80" rx="1.4" ry="1.15"/>
<ellipse cx="445.95" cy="222.80" rx="1.4" ry="1.15"/>
<ellipse cx="449.00" cy="222.80" rx="1.4" ry="1.15"/>
<text x="418.60" y="231.70" font-size="7.0" font-weight="bold" text-anchor="start" fill="#000" textLength="9.60" lengthAdjust="spacingAndGlyphs" >ns</text>
<path d="M59.25,241.20a1.45,1.45 0 1,0 2.9,0a1.45,1.45 0 1,0 -2.9,0ZM51.55,243.60a1.45,1.45 0 1,0 2.9,0a1.45,1.45 0 1,0 -2.9,0ZM57.35,242.80a1.45,1.45 0 1,0 2.9,0a1.45,1.45 0 1,0 -2.9,0ZM56.45,244.50a1.45,1.45 0 1,0 2.9,0a1.45,1.45 0 1,0 -2.9,0ZM62.35,244.80a1.45,1.45 0 1,0 2.9,0a1.45,1.45 0 1,0 -2.9,0ZM66.95,243.40a1.45,1.45 0 1,0 2.9,0a1.45,1.45 0 1,0 -2.9,0ZM53.95,245.00a1.45,1.45 0 1,0 2.9,0a1.45,1.45 0 1,0 -2.9,0ZM64.75,245.20a1.45,1.45 0 1,0 2.9,0a1.45,1.45 0 1,0 -2.9,0ZM49.05,245.80a1.45,1.45 0 1,0 2.9,0a1.45,1.45 0 1,0 -2.9,0ZM51.85,245.90a1.45,1.45 0 1,0 2.9,0a1.45,1.45 0 1,0 -2.9,0ZM54.55,246.00a1.45,1.45 0 1,0 2.9,0a1.45,1.45 0 1,0 -2.9,0ZM57.35,245.60a1.45,1.45 0 1,0 2.9,0a1.45,1.45 0 1,0 -2.9,0ZM60.15,245.40a1.45,1.45 0 1,0 2.9,0a1.45,1.45 0 1,0 -2.9,0ZM62.35,245.50a1.45,1.45 0 1,0 2.9,0a1.45,1.45 0 1,0 -2.9,0ZM65.05,246.00a1.45,1.45 0 1,0 2.9,0a1.45,1.45 0 1,0 -2.9,0ZM67.75,246.00a1.45,1.45 0 1,0 2.9,0a1.45,1.45 0 1,0 -2.9,0ZM70.15,245.90a1.45,1.45 0 1,0 2.9,0a1.45,1.45 0 1,0 -2.9,0ZM47.45,248.00a1.45,1.45 0 1,0 2.9,0a1.45,1.45 0 1,0 -2.9,0ZM50.15,248.00a1.45,1.45 0 1,0 2.9,0a1.45,1.45 0 1,0 -2.9,0ZM52.85,248.00a1.45,1.45 0 1,0 2.9,0a1.45,1.45 0 1,0 -2.9,0ZM55.55,248.00a1.45,1.45 0 1,0 2.9,0a1.45,1.45 0 1,0 -2.9,0ZM58.25,248.00a1.45,1.45 0 1,0 2.9,0a1.45,1.45 0 1,0 -2.9,0ZM60.95,248.00a1.45,1.45 0 1,0 2.9,0a1.45,1.45 0 1,0 -2.9,0ZM63.65,248.00a1.45,1.45 0 1,0 2.9,0a1.45,1.45 0 1,0 -2.9,0ZM66.35,248.00a1.45,1.45 0 1,0 2.9,0a1.45,1.45 0 1,0 -2.9,0ZM69.05,248.00a1.45,1.45 0 1,0 2.9,0a1.45,1.45 0 1,0 -2.9,0ZM71.75,248.00a1.45,1.45 0 1,0 2.9,0a1.45,1.45 0 1,0 -2.9,0ZM48.80,250.30a1.45,1.45 0 1,0 2.9,0a1.45,1.45 0 1,0 -2.9,0ZM51.50,250.30a1.45,1.45 0 1,0 2.9,0a1.45,1.45 0 1,0 -2.9,0ZM54.20,250.30a1.45,1.45 0 1,0 2.9,0a1.45,1.45 0 1,0 -2.9,0ZM56.90,250.30a1.45,1.45 0 1,0 2.9,0a1.45,1.45 0 1,0 -2.9,0ZM59.60,250.30a1.45,1.45 0 1,0 2.9,0a1.45,1.45 0 1,0 -2.9,0ZM62.30,250.30a1.45,1.45 0 1,0 2.9,0a1.45,1.45 0 1,0 -2.9,0ZM65.00,250.30a1.45,1.45 0 1,0 2.9,0a1.45,1.45 0 1,0 -2.9,0ZM67.70,250.30a1.45,1.45 0 1,0 2.9,0a1.45,1.45 0 1,0 -2.9,0ZM70.40,250.30a1.45,1.45 0 1,0 2.9,0a1.45,1.45 0 1,0 -2.9,0ZM47.45,252.60a1.45,1.45 0 1,0 2.9,0a1.45,1.45 0 1,0 -2.9,0ZM50.15,252.60a1.45,1.45 0 1,0 2.9,0a1.45,1.45 0 1,0 -2.9,0ZM52.85,252.60a1.45,1.45 0 1,0 2.9,0a1.45,1.45 0 1,0 -2.9,0ZM55.55,252.60a1.45,1.45 0 1,0 2.9,0a1.45,1.45 0 1,0 -2.9,0ZM58.25,252.60a1.45,1.45 0 1,0 2.9,0a1.45,1.45 0 1,0 -2.9,0ZM60.95,252.60a1.45,1.45 0 1,0 2.9,0a1.45,1.45 0 1,0 -2.9,0ZM63.65,252.60a1.45,1.45 0 1,0 2.9,0a1.45,1.45 0 1,0 -2.9,0ZM66.35,252.60a1.45,1.45 0 1,0 2.9,0a1.45,1.45 0 1,0 -2.9,0ZM69.05,252.60a1.45,1.45 0 1,0 2.9,0a1.45,1.45 0 1,0 -2.9,0ZM71.75,252.60a1.45,1.45 0 1,0 2.9,0a1.45,1.45 0 1,0 -2.9,0ZM48.80,254.90a1.45,1.45 0 1,0 2.9,0a1.45,1.45 0 1,0 -2.9,0ZM51.50,254.90a1.45,1.45 0 1,0 2.9,0a1.45,1.45 0 1,0 -2.9,0ZM54.20,254.90a1.45,1.45 0 1,0 2.9,0a1.45,1.45 0 1,0 -2.9,0ZM56.90,254.90a1.45,1.45 0 1,0 2.9,0a1.45,1.45 0 1,0 -2.9,0ZM59.60,254.90a1.45,1.45 0 1,0 2.9,0a1.45,1.45 0 1,0 -2.9,0ZM62.30,254.90a1.45,1.45 0 1,0 2.9,0a1.45,1.45 0 1,0 -2.9,0ZM65.00,254.90a1.45,1.45 0 1,0 2.9,0a1.45,1.45 0 1,0 -2.9,0ZM67.70,254.90a1.45,1.45 0 1,0 2.9,0a1.45,1.45 0 1,0 -2.9,0ZM70.40,254.90a1.45,1.45 0 1,0 2.9,0a1.45,1.45 0 1,0 -2.9,0ZM47.45,257.20a1.45,1.45 0 1,0 2.9,0a1.45,1.45 0 1,0 -2.9,0ZM50.15,257.20a1.45,1.45 0 1,0 2.9,0a1.45,1.45 0 1,0 -2.9,0ZM52.85,257.20a1.45,1.45 0 1,0 2.9,0a1.45,1.45 0 1,0 -2.9,0ZM55.55,257.20a1.45,1.45 0 1,0 2.9,0a1.45,1.45 0 1,0 -2.9,0ZM58.25,257.20a1.45,1.45 0 1,0 2.9,0a1.45,1.45 0 1,0 -2.9,0ZM60.95,257.20a1.45,1.45 0 1,0 2.9,0a1.45,1.45 0 1,0 -2.9,0ZM63.65,257.20a1.45,1.45 0 1,0 2.9,0a1.45,1.45 0 1,0 -2.9,0ZM66.35,257.20a1.45,1.45 0 1,0 2.9,0a1.45,1.45 0 1,0 -2.9,0ZM69.05,257.20a1.45,1.45 0 1,0 2.9,0a1.45,1.45 0 1,0 -2.9,0ZM71.75,257.20a1.45,1.45 0 1,0 2.9,0a1.45,1.45 0 1,0 -2.9,0ZM48.80,259.50a1.45,1.45 0 1,0 2.9,0a1.45,1.45 0 1,0 -2.9,0ZM51.50,259.50a1.45,1.45 0 1,0 2.9,0a1.45,1.45 0 1,0 -2.9,0ZM54.20,259.50a1.45,1.45 0 1,0 2.9,0a1.45,1.45 0 1,0 -2.9,0ZM56.90,259.50a1.45,1.45 0 1,0 2.9,0a1.45,1.45 0 1,0 -2.9,0ZM59.60,259.50a1.45,1.45 0 1,0 2.9,0a1.45,1.45 0 1,0 -2.9,0ZM62.30,259.50a1.45,1.45 0 1,0 2.9,0a1.45,1.45 0 1,0 -2.9,0ZM65.00,259.50a1.45,1.45 0 1,0 2.9,0a1.45,1.45 0 1,0 -2.9,0ZM67.70,259.50a1.45,1.45 0 1,0 2.9,0a1.45,1.45 0 1,0 -2.9,0ZM70.40,259.50a1.45,1.45 0 1,0 2.9,0a1.45,1.45 0 1,0 -2.9,0ZM47.45,261.80a1.45,1.45 0 1,0 2.9,0a1.45,1.45 0 1,0 -2.9,0ZM50.15,261.80a1.45,1.45 0 1,0 2.9,0a1.45,1.45 0 1,0 -2.9,0ZM52.85,261.80a1.45,1.45 0 1,0 2.9,0a1.45,1.45 0 1,0 -2.9,0ZM55.55,261.80a1.45,1.45 0 1,0 2.9,0a1.45,1.45 0 1,0 -2.9,0ZM58.25,261.80a1.45,1.45 0 1,0 2.9,0a1.45,1.45 0 1,0 -2.9,0ZM60.95,261.80a1.45,1.45 0 1,0 2.9,0a1.45,1.45 0 1,0 -2.9,0ZM63.65,261.80a1.45,1.45 0 1,0 2.9,0a1.45,1.45 0 1,0 -2.9,0ZM66.35,261.80a1.45,1.45 0 1,0 2.9,0a1.45,1.45 0 1,0 -2.9,0ZM69.05,261.80a1.45,1.45 0 1,0 2.9,0a1.45,1.45 0 1,0 -2.9,0ZM71.75,261.80a1.45,1.45 0 1,0 2.9,0a1.45,1.45 0 1,0 -2.9,0ZM48.80,264.10a1.45,1.45 0 1,0 2.9,0a1.45,1.45 0 1,0 -2.9,0ZM51.50,264.10a1.45,1.45 0 1,0 2.9,0a1.45,1.45 0 1,0 -2.9,0ZM54.20,264.10a1.45,1.45 0 1,0 2.9,0a1.45,1.45 0 1,0 -2.9,0ZM56.90,264.10a1.45,1.45 0 1,0 2.9,0a1.45,1.45 0 1,0 -2.9,0ZM59.60,264.10a1.45,1.45 0 1,0 2.9,0a1.45,1.45 0 1,0 -2.9,0ZM62.30,264.10a1.45,1.45 0 1,0 2.9,0a1.45,1.45 0 1,0 -2.9,0ZM65.00,264.10a1.45,1.45 0 1,0 2.9,0a1.45,1.45 0 1,0 -2.9,0ZM67.70,264.10a1.45,1.45 0 1,0 2.9,0a1.45,1.45 0 1,0 -2.9,0ZM70.40,264.10a1.45,1.45 0 1,0 2.9,0a1.45,1.45 0 1,0 -2.9,0ZM47.45,266.40a1.45,1.45 0 1,0 2.9,0a1.45,1.45 0 1,0 -2.9,0ZM50.15,266.40a1.45,1.45 0 1,0 2.9,0a1.45,1.45 0 1,0 -2.9,0ZM52.85,266.40a1.45,1.45 0 1,0 2.9,0a1.45,1.45 0 1,0 -2.9,0ZM55.55,266.40a1.45,1.45 0 1,0 2.9,0a1.45,1.45 0 1,0 -2.9,0ZM58.25,266.40a1.45,1.45 0 1,0 2.9,0a1.45,1.45 0 1,0 -2.9,0ZM60.95,266.40a1.45,1.45 0 1,0 2.9,0a1.45,1.45 0 1,0 -2.9,0ZM63.65,266.40a1.45,1.45 0 1,0 2.9,0a1.45,1.45 0 1,0 -2.9,0ZM66.35,266.40a1.45,1.45 0 1,0 2.9,0a1.45,1.45 0 1,0 -2.9,0ZM69.05,266.40a1.45,1.45 0 1,0 2.9,0a1.45,1.45 0 1,0 -2.9,0ZM71.75,266.40a1.45,1.45 0 1,0 2.9,0a1.45,1.45 0 1,0 -2.9,0ZM49.05,268.60a1.45,1.45 0 1,0 2.9,0a1.45,1.45 0 1,0 -2.9,0ZM51.75,268.80a1.45,1.45 0 1,0 2.9,0a1.45,1.45 0 1,0 -2.9,0ZM56.85,268.40a1.45,1.45 0 1,0 2.9,0a1.45,1.45 0 1,0 -2.9,0ZM62.05,268.60a1.45,1.45 0 1,0 2.9,0a1.45,1.45 0 1,0 -2.9,0ZM67.25,268.60a1.45,1.45 0 1,0 2.9,0a1.45,1.45 0 1,0 -2.9,0ZM70.25,268.60a1.45,1.45 0 1,0 2.9,0a1.45,1.45 0 1,0 -2.9,0ZM54.25,271.00a1.45,1.45 0 1,0 2.9,0a1.45,1.45 0 1,0 -2.9,0ZM69.65,271.00a1.45,1.45 0 1,0 2.9,0a1.45,1.45 0 1,0 -2.9,0ZM59.35,273.80a1.45,1.45 0 1,0 2.9,0a1.45,1.45 0 1,0 -2.9,0ZM64.55,273.30a1.45,1.45 0 1,0 2.9,0a1.45,1.45 0 1,0 -2.9,0ZM54.25,275.60a1.45,1.45 0 1,0 2.9,0a1.45,1.45 0 1,0 -2.9,0ZM59.35,278.90a1.45,1.45 0 1,0 2.9,0a1.45,1.45 0 1,0 -2.9,0ZM62.15,281.20a1.45,1.45 0 1,0 2.9,0a1.45,1.45 0 1,0 -2.9,0ZM49.05,281.70a1.45,1.45 0 1,0 2.9,0a1.45,1.45 0 1,0 -2.9,0ZM54.25,284.00a1.45,1.45 0 1,0 2.9,0a1.45,1.45 0 1,0 -2.9,0ZM59.35,285.40a1.45,1.45 0 1,0 2.9,0a1.45,1.45 0 1,0 -2.9,0ZM64.55,284.50a1.45,1.45 0 1,0 2.9,0a1.45,1.45 0 1,0 -2.9,0ZM69.65,283.60a1.45,1.45 0 1,0 2.9,0a1.45,1.45 0 1,0 -2.9,0Z" fill="#000"/>
<path d="M51.8,249.4L53.4,246.0M56.4,250.0L58.3,246.4M63.5,246.6L64.9,250.0M68.3,245.8L69.7,250.0M52.4,259.1L57.3,253.8M64.0,253.8L68.9,259.1M55.5,260.3L60.7,255.1M60.7,255.1L66.2,260.3M55.8,265.8L59.5,261.2M62.2,261.2L65.3,265.2M50.3,263.9L53.5,260.3M68.0,260.3L71.2,263.9" stroke="#fff" stroke-width="1.25" stroke-linecap="round" fill="none"/>
<line x1="47.00" y1="259.00" x2="74.80" y2="259.00" stroke="#777" stroke-width="1.1" />
<path d="M101.85,239.35h2.9v2.9h-2.9ZM101.85,248.95h2.9v2.9h-2.9ZM96.55,254.15h2.9v2.9h-2.9ZM102.35,255.05h2.9v2.9h-2.9ZM106.95,254.55h2.9v2.9h-2.9ZM111.95,253.25h2.9v2.9h-2.9ZM99.25,257.85h2.9v2.9h-2.9ZM91.55,260.15h2.9v2.9h-2.9ZM96.55,260.15h2.9v2.9h-2.9ZM101.55,260.15h2.9v2.9h-2.9ZM106.95,260.15h2.9v2.9h-2.9ZM111.95,260.15h2.9v2.9h-2.9ZM99.25,262.45h2.9v2.9h-2.9ZM104.25,262.45h2.9v2.9h-2.9ZM91.55,264.75h2.9v2.9h-2.9ZM96.55,264.75h2.9v2.9h-2.9ZM106.95,264.75h2.9v2.9h-2.9ZM111.95,264.75h2.9v2.9h-2.9ZM102.35,267.85h2.9v2.9h-2.9ZM94.25,270.15h2.9v2.9h-2.9ZM91.55,272.55h2.9v2.9h-2.9ZM96.55,273.05h2.9v2.9h-2.9ZM100.35,272.55h2.9v2.9h-2.9ZM104.25,273.05h2.9v2.9h-2.9ZM106.95,272.55h2.9v2.9h-2.9ZM111.95,272.05h2.9v2.9h-2.9ZM111.95,274.55h2.9v2.9h-2.9ZM96.55,274.55h2.9v2.9h-2.9ZM102.35,274.75h2.9v2.9h-2.9ZM106.95,274.75h2.9v2.9h-2.9ZM101.55,279.55h2.9v2.9h-2.9ZM96.95,284.25h2.9v2.9h-2.9ZM101.55,288.85h2.9v2.9h-2.9ZM101.55,294.55h2.9v2.9h-2.9Z" fill="#000"/>
<line x1="89.20" y1="268.40" x2="117.50" y2="268.40" stroke="#000" stroke-width="1.1" />
<path d="M140.90,241.21L142.65,244.36L139.15,244.36ZM150.80,241.21L152.55,244.36L149.05,244.36ZM145.80,244.01L147.55,247.16L144.05,247.16ZM140.90,249.91L142.65,253.06L139.15,253.06ZM145.80,250.41L147.55,253.56L144.05,253.56ZM150.80,249.41L152.55,252.56L149.05,252.56ZM145.80,254.41L147.55,257.56L144.05,257.56ZM138.40,256.41L140.15,259.56L136.65,259.56ZM135.40,257.91L137.15,261.06L133.65,261.06ZM153.70,256.71L155.45,259.86L151.95,259.86ZM156.20,257.91L157.95,261.06L154.45,261.06ZM140.90,259.31L142.65,262.46L139.15,262.46ZM145.80,259.81L147.55,262.96L144.05,262.96ZM150.80,259.31L152.55,262.46L149.05,262.46ZM138.40,262.31L140.15,265.46L136.65,265.46ZM148.30,262.31L150.05,265.46L146.55,265.46ZM135.90,264.31L137.65,267.46L134.15,267.46ZM143.30,263.81L145.05,266.96L141.55,266.96ZM156.20,263.81L157.95,266.96L154.45,266.96ZM140.90,265.81L142.65,268.96L139.15,268.96ZM150.80,265.81L152.55,268.96L149.05,268.96ZM135.90,269.01L137.65,272.16L134.15,272.16ZM145.80,269.01L147.55,272.16L144.05,272.16ZM150.80,269.01L152.55,272.16L149.05,272.16ZM155.70,269.01L157.45,272.16L153.95,272.16ZM138.40,271.51L140.15,274.66L136.65,274.66ZM143.30,271.51L145.05,274.66L141.55,274.66ZM148.30,271.51L150.05,274.66L146.55,274.66ZM153.20,271.51L154.95,274.66L151.45,274.66ZM135.40,274.51L137.15,277.66L133.65,277.66ZM140.90,274.51L142.65,277.66L139.15,277.66ZM145.30,274.51L147.05,277.66L143.55,277.66ZM151.30,274.51L153.05,277.66L149.55,277.66ZM156.20,274.51L157.95,277.66L154.45,277.66ZM140.90,277.41L142.65,280.56L139.15,280.56ZM145.80,277.41L147.55,280.56L144.05,280.56ZM150.80,277.41L152.55,280.56L149.05,280.56ZM156.20,279.41L157.95,282.56L154.45,282.56ZM140.40,280.41L142.15,283.56L138.65,283.56ZM150.80,282.41L152.55,285.56L149.05,285.56ZM145.80,283.41L147.55,286.56L144.05,286.56ZM145.80,295.01L147.55,298.16L144.05,298.16ZM151.30,297.81L153.05,300.96L149.55,300.96ZM145.80,302.41L147.55,305.56L144.05,305.56ZM140.90,254.91L142.65,258.06L139.15,258.06ZM150.80,254.91L152.55,258.06L149.05,258.06ZM143.30,257.11L145.05,260.26L141.55,260.26ZM148.30,257.11L150.05,260.26L146.55,260.26ZM153.20,261.61L154.95,264.76L151.45,264.76ZM138.40,267.61L140.15,270.76L136.65,270.76ZM143.30,267.91L145.05,271.06L141.55,271.06ZM148.30,267.61L150.05,270.76L146.55,270.76ZM153.20,267.91L154.95,271.06L151.45,271.06ZM135.90,271.51L137.65,274.66L134.15,274.66ZM156.20,271.51L157.95,274.66L154.45,274.66ZM143.30,275.91L145.05,279.06L141.55,279.06ZM148.30,275.91L150.05,279.06L146.55,279.06ZM138.40,277.61L140.15,280.76L136.65,280.76ZM153.20,277.61L154.95,280.76L151.45,280.76Z" fill="#000"/>
<line x1="132.50" y1="269.20" x2="159.70" y2="269.20" stroke="#555" stroke-width="1.1" />
<path d="M221.00,246.70a1.5,1.5 0 1,0 3.0,0a1.5,1.5 0 1,0 -3.0,0ZM233.90,246.20a1.5,1.5 0 1,0 3.0,0a1.5,1.5 0 1,0 -3.0,0ZM241.90,247.60a1.5,1.5 0 1,0 3.0,0a1.5,1.5 0 1,0 -3.0,0ZM226.00,250.00a1.5,1.5 0 1,0 3.0,0a1.5,1.5 0 1,0 -3.0,0ZM231.30,250.50a1.5,1.5 0 1,0 3.0,0a1.5,1.5 0 1,0 -3.0,0ZM236.60,250.30a1.5,1.5 0 1,0 3.0,0a1.5,1.5 0 1,0 -3.0,0ZM236.60,254.30a1.5,1.5 0 1,0 3.0,0a1.5,1.5 0 1,0 -3.0,0ZM226.00,255.50a1.5,1.5 0 1,0 3.0,0a1.5,1.5 0 1,0 -3.0,0ZM231.30,256.50a1.5,1.5 0 1,0 3.0,0a1.5,1.5 0 1,0 -3.0,0ZM221.20,259.30a1.5,1.5 0 1,0 3.0,0a1.5,1.5 0 1,0 -3.0,0ZM223.60,258.20a1.5,1.5 0 1,0 3.0,0a1.5,1.5 0 1,0 -3.0,0ZM228.90,258.70a1.5,1.5 0 1,0 3.0,0a1.5,1.5 0 1,0 -3.0,0ZM233.70,258.70a1.5,1.5 0 1,0 3.0,0a1.5,1.5 0 1,0 -3.0,0ZM239.00,258.20a1.5,1.5 0 1,0 3.0,0a1.5,1.5 0 1,0 -3.0,0ZM241.90,259.60a1.5,1.5 0 1,0 3.0,0a1.5,1.5 0 1,0 -3.0,0ZM226.00,261.60a1.5,1.5 0 1,0 3.0,0a1.5,1.5 0 1,0 -3.0,0ZM231.30,261.10a1.5,1.5 0 1,0 3.0,0a1.5,1.5 0 1,0 -3.0,0ZM236.60,261.60a1.5,1.5 0 1,0 3.0,0a1.5,1.5 0 1,0 -3.0,0ZM223.60,263.50a1.5,1.5 0 1,0 3.0,0a1.5,1.5 0 1,0 -3.0,0ZM228.90,263.50a1.5,1.5 0 1,0 3.0,0a1.5,1.5 0 1,0 -3.0,0ZM233.70,263.50a1.5,1.5 0 1,0 3.0,0a1.5,1.5 0 1,0 -3.0,0ZM239.00,263.50a1.5,1.5 0 1,0 3.0,0a1.5,1.5 0 1,0 -3.0,0ZM221.00,265.90a1.5,1.5 0 1,0 3.0,0a1.5,1.5 0 1,0 -3.0,0ZM226.00,266.40a1.5,1.5 0 1,0 3.0,0a1.5,1.5 0 1,0 -3.0,0ZM231.30,267.00a1.5,1.5 0 1,0 3.0,0a1.5,1.5 0 1,0 -3.0,0ZM236.60,266.40a1.5,1.5 0 1,0 3.0,0a1.5,1.5 0 1,0 -3.0,0ZM241.90,265.90a1.5,1.5 0 1,0 3.0,0a1.5,1.5 0 1,0 -3.0,0ZM226.00,270.20a1.5,1.5 0 1,0 3.0,0a1.5,1.5 0 1,0 -3.0,0ZM231.30,272.20a1.5,1.5 0 1,0 3.0,0a1.5,1.5 0 1,0 -3.0,0ZM236.60,270.50a1.5,1.5 0 1,0 3.0,0a1.5,1.5 0 1,0 -3.0,0ZM231.30,279.20a1.5,1.5 0 1,0 3.0,0a1.5,1.5 0 1,0 -3.0,0ZM226.00,281.50a1.5,1.5 0 1,0 3.0,0a1.5,1.5 0 1,0 -3.0,0ZM236.60,283.30a1.5,1.5 0 1,0 3.0,0a1.5,1.5 0 1,0 -3.0,0ZM231.30,284.40a1.5,1.5 0 1,0 3.0,0a1.5,1.5 0 1,0 -3.0,0ZM226.10,256.50a1.5,1.5 0 1,0 3.0,0a1.5,1.5 0 1,0 -3.0,0ZM236.10,256.50a1.5,1.5 0 1,0 3.0,0a1.5,1.5 0 1,0 -3.0,0ZM223.20,258.50a1.5,1.5 0 1,0 3.0,0a1.5,1.5 0 1,0 -3.0,0ZM228.20,258.50a1.5,1.5 0 1,0 3.0,0a1.5,1.5 0 1,0 -3.0,0ZM233.90,258.50a1.5,1.5 0 1,0 3.0,0a1.5,1.5 0 1,0 -3.0,0ZM238.90,258.50a1.5,1.5 0 1,0 3.0,0a1.5,1.5 0 1,0 -3.0,0ZM221.10,260.50a1.5,1.5 0 1,0 3.0,0a1.5,1.5 0 1,0 -3.0,0ZM241.10,260.50a1.5,1.5 0 1,0 3.0,0a1.5,1.5 0 1,0 -3.0,0ZM219.10,262.40a1.5,1.5 0 1,0 3.0,0a1.5,1.5 0 1,0 -3.0,0ZM243.10,262.40a1.5,1.5 0 1,0 3.0,0a1.5,1.5 0 1,0 -3.0,0ZM226.00,263.80a1.5,1.5 0 1,0 3.0,0a1.5,1.5 0 1,0 -3.0,0ZM236.60,263.80a1.5,1.5 0 1,0 3.0,0a1.5,1.5 0 1,0 -3.0,0ZM231.30,264.60a1.5,1.5 0 1,0 3.0,0a1.5,1.5 0 1,0 -3.0,0Z" fill="#000"/>
<line x1="218.80" y1="262.70" x2="246.70" y2="262.70" stroke="#777" stroke-width="1.1" />
<path d="M264.05,255.15h2.9v2.9h-2.9ZM269.35,259.55h2.9v2.9h-2.9ZM274.45,259.85h2.9v2.9h-2.9ZM279.65,257.25h2.9v2.9h-2.9ZM269.35,264.55h2.9v2.9h-2.9ZM279.65,265.15h2.9v2.9h-2.9ZM284.85,263.05h2.9v2.9h-2.9ZM274.45,267.55h2.9v2.9h-2.9ZM266.85,269.35h2.9v2.9h-2.9ZM264.05,272.75h2.9v2.9h-2.9ZM269.15,273.45h2.9v2.9h-2.9ZM274.35,272.75h2.9v2.9h-2.9ZM279.45,274.35h2.9v2.9h-2.9ZM284.55,272.45h2.9v2.9h-2.9ZM274.35,279.05h2.9v2.9h-2.9ZM269.15,283.75h2.9v2.9h-2.9ZM274.35,288.85h2.9v2.9h-2.9ZM274.35,294.65h2.9v2.9h-2.9Z" fill="#000"/>
<line x1="261.70" y1="272.60" x2="288.80" y2="272.60" stroke="#000" stroke-width="1.1" />
<path d="M313.90,249.51L315.65,252.66L312.15,252.66ZM318.80,250.01L320.55,253.16L317.05,253.16ZM308.40,256.91L310.15,260.06L306.65,260.06ZM316.30,255.91L318.05,259.06L314.55,259.06ZM321.30,256.41L323.05,259.56L319.55,259.56ZM326.70,255.71L328.45,258.86L324.95,258.86ZM329.20,257.11L330.95,260.26L327.45,260.26ZM313.90,258.71L315.65,261.86L312.15,261.86ZM318.80,259.11L320.55,262.26L317.05,262.26ZM324.30,258.71L326.05,261.86L322.55,261.86ZM316.30,262.91L318.05,266.06L314.55,266.06ZM308.40,264.01L310.15,267.16L306.65,267.16ZM324.30,264.31L326.05,267.46L322.55,267.46ZM329.20,263.61L330.95,266.76L327.45,266.76ZM313.90,266.81L315.65,269.96L312.15,269.96ZM318.80,266.81L320.55,269.96L317.05,269.96ZM326.70,267.61L328.45,270.76L324.95,270.76ZM308.40,269.61L310.15,272.76L306.65,272.76ZM316.30,268.81L318.05,271.96L314.55,271.96ZM321.30,269.01L323.05,272.16L319.55,272.16ZM329.20,270.01L330.95,273.16L327.45,273.16ZM313.90,271.31L315.65,274.46L312.15,274.46ZM323.80,271.81L325.55,274.96L322.05,274.96ZM310.90,273.51L312.65,276.66L309.15,276.66ZM316.30,274.01L318.05,277.16L314.55,277.16ZM318.80,273.01L320.55,276.16L317.05,276.16ZM321.30,274.01L323.05,277.16L319.55,277.16ZM326.70,273.51L328.45,276.66L324.95,276.66ZM329.20,274.51L330.95,277.66L327.45,277.66ZM308.40,276.01L310.15,279.16L306.65,279.16ZM313.90,277.01L315.65,280.16L312.15,280.16ZM323.80,276.51L325.55,279.66L322.05,279.66ZM318.80,278.81L320.55,281.96L317.05,281.96ZM318.80,295.31L320.55,298.46L317.05,298.46Z" fill="#000"/>
<line x1="305.00" y1="268.80" x2="332.70" y2="268.80" stroke="#555" stroke-width="1.1" />
<path d="M397.20,242.40a1.5,1.5 0 1,0 3.0,0a1.5,1.5 0 1,0 -3.0,0ZM407.30,243.10a1.5,1.5 0 1,0 3.0,0a1.5,1.5 0 1,0 -3.0,0ZM402.30,244.40a1.5,1.5 0 1,0 3.0,0a1.5,1.5 0 1,0 -3.0,0ZM394.40,245.90a1.5,1.5 0 1,0 3.0,0a1.5,1.5 0 1,0 -3.0,0ZM399.80,245.40a1.5,1.5 0 1,0 3.0,0a1.5,1.5 0 1,0 -3.0,0ZM404.80,245.40a1.5,1.5 0 1,0 3.0,0a1.5,1.5 0 1,0 -3.0,0ZM409.70,245.90a1.5,1.5 0 1,0 3.0,0a1.5,1.5 0 1,0 -3.0,0ZM391.90,247.90a1.5,1.5 0 1,0 3.0,0a1.5,1.5 0 1,0 -3.0,0ZM397.40,248.40a1.5,1.5 0 1,0 3.0,0a1.5,1.5 0 1,0 -3.0,0ZM402.30,247.40a1.5,1.5 0 1,0 3.0,0a1.5,1.5 0 1,0 -3.0,0ZM407.30,247.90a1.5,1.5 0 1,0 3.0,0a1.5,1.5 0 1,0 -3.0,0ZM412.70,247.40a1.5,1.5 0 1,0 3.0,0a1.5,1.5 0 1,0 -3.0,0ZM394.40,250.90a1.5,1.5 0 1,0 3.0,0a1.5,1.5 0 1,0 -3.0,0ZM399.80,249.90a1.5,1.5 0 1,0 3.0,0a1.5,1.5 0 1,0 -3.0,0ZM404.80,250.40a1.5,1.5 0 1,0 3.0,0a1.5,1.5 0 1,0 -3.0,0ZM409.70,250.90a1.5,1.5 0 1,0 3.0,0a1.5,1.5 0 1,0 -3.0,0ZM390.90,252.30a1.5,1.5 0 1,0 3.0,0a1.5,1.5 0 1,0 -3.0,0ZM397.40,252.80a1.5,1.5 0 1,0 3.0,0a1.5,1.5 0 1,0 -3.0,0ZM402.30,252.30a1.5,1.5 0 1,0 3.0,0a1.5,1.5 0 1,0 -3.0,0ZM407.30,252.80a1.5,1.5 0 1,0 3.0,0a1.5,1.5 0 1,0 -3.0,0ZM413.70,252.30a1.5,1.5 0 1,0 3.0,0a1.5,1.5 0 1,0 -3.0,0ZM393.40,254.30a1.5,1.5 0 1,0 3.0,0a1.5,1.5 0 1,0 -3.0,0ZM399.80,254.30a1.5,1.5 0 1,0 3.0,0a1.5,1.5 0 1,0 -3.0,0ZM404.80,254.80a1.5,1.5 0 1,0 3.0,0a1.5,1.5 0 1,0 -3.0,0ZM411.20,254.30a1.5,1.5 0 1,0 3.0,0a1.5,1.5 0 1,0 -3.0,0ZM391.90,257.80a1.5,1.5 0 1,0 3.0,0a1.5,1.5 0 1,0 -3.0,0ZM407.30,258.60a1.5,1.5 0 1,0 3.0,0a1.5,1.5 0 1,0 -3.0,0ZM412.70,257.30a1.5,1.5 0 1,0 3.0,0a1.5,1.5 0 1,0 -3.0,0ZM397.20,260.30a1.5,1.5 0 1,0 3.0,0a1.5,1.5 0 1,0 -3.0,0ZM402.30,260.80a1.5,1.5 0 1,0 3.0,0a1.5,1.5 0 1,0 -3.0,0ZM397.20,265.30a1.5,1.5 0 1,0 3.0,0a1.5,1.5 0 1,0 -3.0,0ZM412.40,264.20a1.5,1.5 0 1,0 3.0,0a1.5,1.5 0 1,0 -3.0,0ZM402.30,268.30a1.5,1.5 0 1,0 3.0,0a1.5,1.5 0 1,0 -3.0,0ZM407.30,267.70a1.5,1.5 0 1,0 3.0,0a1.5,1.5 0 1,0 -3.0,0ZM397.20,274.70a1.5,1.5 0 1,0 3.0,0a1.5,1.5 0 1,0 -3.0,0ZM402.30,276.40a1.5,1.5 0 1,0 3.0,0a1.5,1.5 0 1,0 -3.0,0ZM397.20,282.30a1.5,1.5 0 1,0 3.0,0a1.5,1.5 0 1,0 -3.0,0ZM402.30,285.80a1.5,1.5 0 1,0 3.0,0a1.5,1.5 0 1,0 -3.0,0ZM407.30,285.00a1.5,1.5 0 1,0 3.0,0a1.5,1.5 0 1,0 -3.0,0ZM395.00,256.50a1.5,1.5 0 1,0 3.0,0a1.5,1.5 0 1,0 -3.0,0ZM399.50,257.30a1.5,1.5 0 1,0 3.0,0a1.5,1.5 0 1,0 -3.0,0ZM404.00,257.00a1.5,1.5 0 1,0 3.0,0a1.5,1.5 0 1,0 -3.0,0ZM409.50,256.80a1.5,1.5 0 1,0 3.0,0a1.5,1.5 0 1,0 -3.0,0ZM402.30,250.00a1.5,1.5 0 1,0 3.0,0a1.5,1.5 0 1,0 -3.0,0Z" fill="#000"/>
<line x1="390.00" y1="256.30" x2="418.20" y2="256.30" stroke="#333" stroke-width="1.1" />
<path d="M444.05,240.45h2.9v2.9h-2.9ZM444.05,250.35h2.9v2.9h-2.9ZM439.05,254.25h2.9v2.9h-2.9ZM444.05,255.85h2.9v2.9h-2.9ZM448.95,255.35h2.9v2.9h-2.9ZM441.75,261.55h2.9v2.9h-2.9ZM446.95,261.55h2.9v2.9h-2.9ZM454.25,262.15h2.9v2.9h-2.9ZM433.85,263.75h2.9v2.9h-2.9ZM439.05,265.45h2.9v2.9h-2.9ZM444.05,265.85h2.9v2.9h-2.9ZM449.35,264.55h2.9v2.9h-2.9ZM444.05,275.95h2.9v2.9h-2.9Z" fill="#000"/>
<line x1="432.00" y1="261.00" x2="458.90" y2="261.00" stroke="#000" stroke-width="1.1" />
<path d="M482.40,242.51L484.15,245.66L480.65,245.66ZM492.60,242.81L494.35,245.96L490.85,245.96ZM487.30,245.21L489.05,248.36L485.55,248.36ZM492.60,250.71L494.35,253.86L490.85,253.86ZM482.40,255.41L484.15,258.56L480.65,258.56ZM487.30,255.41L489.05,258.56L485.55,258.56ZM482.40,258.91L484.15,262.06L480.65,262.06ZM487.30,262.81L489.05,265.96L485.55,265.96ZM492.60,262.31L494.35,265.46L490.85,265.46ZM492.60,264.71L494.35,267.86L490.85,267.86ZM482.10,267.51L483.85,270.66L480.35,270.66ZM487.50,268.71L489.25,271.86L485.75,271.86ZM477.20,270.61L478.95,273.76L475.45,273.76ZM497.50,270.61L499.25,273.76L495.75,273.76ZM482.10,273.01L483.85,276.16L480.35,276.16ZM487.50,274.81L489.25,277.96L485.75,277.96ZM492.30,274.21L494.05,277.36L490.55,277.36ZM482.10,282.41L483.85,285.56L480.35,285.56ZM492.30,281.21L494.05,284.36L490.55,284.36ZM487.50,284.41L489.25,287.56L485.75,287.56ZM492.30,298.11L494.05,301.26L490.55,301.26ZM487.50,302.31L489.25,305.46L485.75,305.46Z" fill="#000"/>
<line x1="474.00" y1="269.30" x2="501.20" y2="269.30" stroke="#555" stroke-width="1.1" />
</svg></body></html>
